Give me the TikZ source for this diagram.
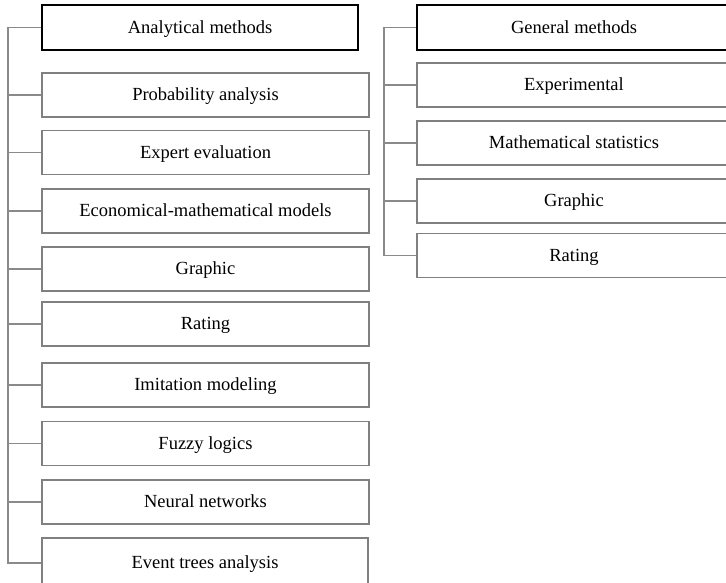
\documentclass[tikz,border=0pt]{standalone}
\usepackage{fontspec}
\setmainfont{Liberation Serif}
\usetikzlibrary{positioning}
\definecolor{boxgray}{HTML}{808080}
\definecolor{linkgray}{HTML}{8A8A8A}

\begin{document}
\begin{tikzpicture}[x=1pt, y=-1pt,
    head/.style={draw=black, line width=2pt, minimum height=45pt, inner sep=0pt, text height=11pt, text depth=0pt, font=\fontsize{18.5}{22}\selectfont},
    leaf/.style={draw=boxgray, line width=1.6pt, minimum height=44pt, inner sep=0pt, text height=11pt, text depth=0pt, font=\fontsize{18.5}{22}\selectfont},
    link/.style={draw=linkgray, line width=1.4pt}]
    \useasboundingbox (0,0) rectangle (726,582);
    \coordinate (lspine) at (8,0);
    \coordinate (rspine) at (384,0);
    % left column
    \node[head, minimum width=316pt] (ana) at (200,27.5) {Analytical methods};
    \foreach \name/\yy/\txt in {prob/95/Probability analysis, expert/152.5/Expert evaluation,
        econ/211/Economical-mathematical models, lgraph/269/Graphic, lrating/324/Rating,
        imit/385/Imitation modeling, fuzzy/443.5/Fuzzy logics, neural/502/Neural networks}
        \node[leaf, minimum width=327pt] (\name) at (205.5,\yy) {\txt};
    \node[leaf, minimum width=326pt, minimum height=50pt] (event) at (205,563) {Event trees analysis};
    \draw[link] (ana.west) -- (ana.west -| lspine) |- (event.west);
    \foreach \name in {prob,expert,econ,lgraph,lrating,imit,fuzzy,neural}
        \draw[link] (\name.west -| lspine) -- (\name.west);
    % right column
    \node[head, minimum width=314pt] (gen) at (574,27.5) {General methods};
    \foreach \name/\yy/\txt in {exper/85/Experimental, mstat/143/Mathematical statistics,
        rgraph/201/Graphic, rrating/255.5/Rating}
        \node[leaf, minimum width=314pt] (\name) at (574,\yy) {\txt};
    \draw[link] (gen.west) -- (gen.west -| rspine) |- (rrating.west);
    \foreach \name in {exper,mstat,rgraph}
        \draw[link] (\name.west -| rspine) -- (\name.west);
\end{tikzpicture}
\end{document}
